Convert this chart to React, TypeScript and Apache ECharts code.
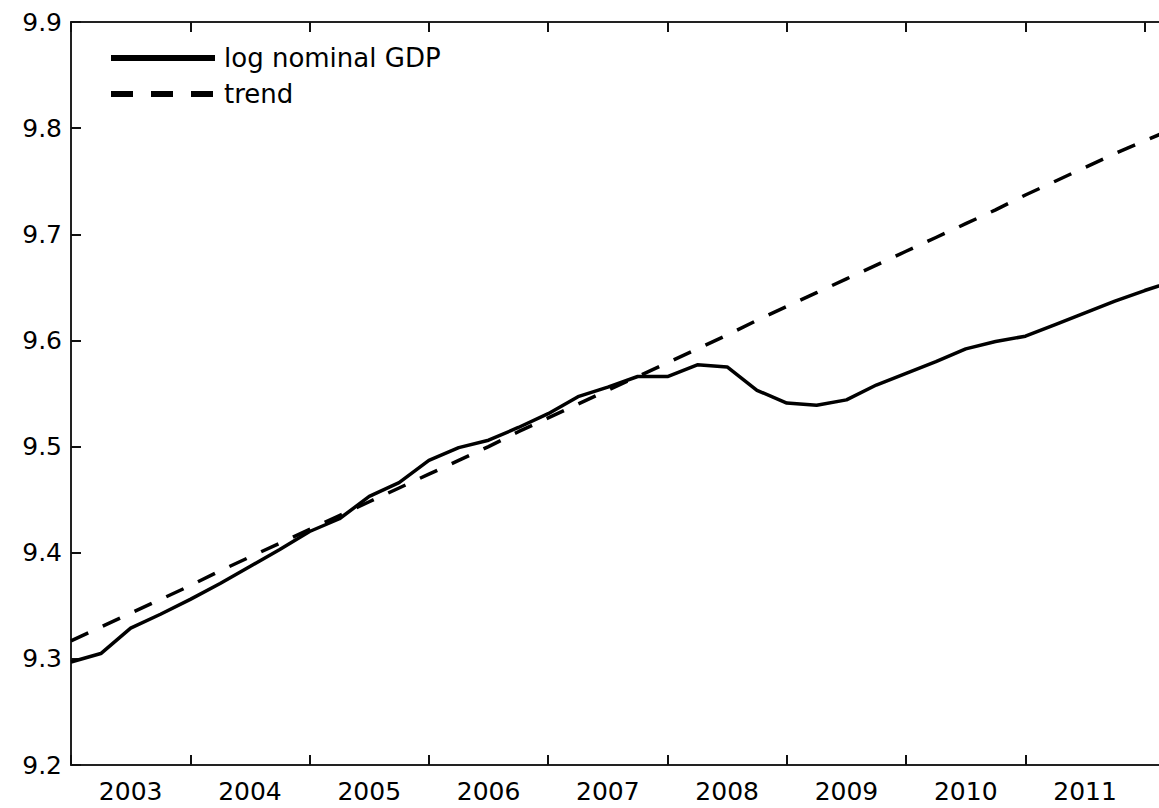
import React, { useEffect, useRef } from 'react';
import * as echarts from 'echarts';

// Year tick labels (labels sit mid-year, ticks at year boundaries)
const yearLabels = ['2003', '2004', '2005', '2006', '2007', '2008', '2009', '2010', '2011', '2012'];
const firstYear = 2003;

// Quarterly log nominal GDP, 2003Q1 onward
const logNominalGDP = [
  9.297, 9.305, 9.329, 9.342, 9.356, 9.371, 9.387, 9.403,
  9.420, 9.432, 9.453, 9.466, 9.487, 9.499, 9.506, 9.518,
  9.531, 9.547, 9.556, 9.566, 9.566, 9.577, 9.575, 9.553,
  9.541, 9.539, 9.544, 9.558, 9.569, 9.580, 9.592, 9.599,
  9.604, 9.615, 9.626, 9.637, 9.647, 9.656,
];

// Quarterly trend
const trendValues = [
  9.317, 9.330, 9.343, 9.356, 9.369, 9.383, 9.396, 9.409,
  9.422, 9.435, 9.448, 9.461, 9.474, 9.487, 9.500, 9.514,
  9.527, 9.540, 9.553, 9.566, 9.579, 9.592, 9.605, 9.619,
  9.632, 9.645, 9.658, 9.671, 9.684, 9.697, 9.710, 9.723,
  9.737, 9.750, 9.763, 9.776, 9.788, 9.800,
];

const seriesNames = ['log nominal GDP', 'trend'];

const FONT = 'DejaVu Sans';
const CHART_W = 1300;

export default function App() {
  const ref = useRef<HTMLDivElement>(null);

  useEffect(() => {
    if (!ref.current) return;
    const chart = echarts.init(ref.current, undefined, { renderer: 'svg' });

    const toXY = (arr: number[]) => arr.map((v, i) => [firstYear + i / 4, v]);

    const axisLine = { show: true, lineStyle: { color: '#222', width: 2 } };
    const axisTick = { show: true, inside: true, length: 10, lineStyle: { color: '#111', width: 2 } };

    chart.setOption({
      animation: false,
      backgroundColor: '#fff',
      grid: { left: 71, top: 22, right: CHART_W - 1264, bottom: 43, containLabel: false },
      legend: {
        orient: 'vertical',
        left: 108,
        top: 45,
        padding: 0,
        itemWidth: 104,
        itemHeight: 26,
        itemGap: 10,
        selectedMode: false,
        itemStyle: { opacity: 0 },
        textStyle: { fontFamily: FONT, fontSize: 26, color: '#000', padding: [0, 0, 0, 4] },
        data: [
          { name: seriesNames[0], itemStyle: { opacity: 0 }, lineStyle: { width: 6, type: 'solid', color: '#000' } },
          { name: seriesNames[1], itemStyle: { opacity: 0 }, lineStyle: { width: 6, type: [22, 18], color: '#000' } },
        ],
      },
      xAxis: [
        {
          type: 'category',
          position: 'bottom',
          data: yearLabels,
          boundaryGap: true,
          axisLine,
          axisTick: { ...axisTick, alignWithLabel: false },
          axisLabel: {
            show: true,
            interval: (i: number) => i < yearLabels.length - 1,
            fontFamily: FONT,
            fontSize: 25,
            color: '#000',
            margin: 14,
          },
          splitLine: { show: false },
        },
        {
          type: 'category',
          position: 'top',
          data: yearLabels,
          boundaryGap: true,
          axisLine,
          axisTick,
          axisLabel: { show: false },
          splitLine: { show: false },
        },
        {
          type: 'value',
          min: 2003,
          max: 2013,
          show: false,
          splitLine: { show: false },
        },
      ],
      yAxis: [
        {
          type: 'value',
          min: 9.2,
          max: 9.9,
          interval: 0.1,
          axisLine,
          axisTick,
          axisLabel: {
            fontFamily: FONT,
            fontSize: 25,
            color: '#000',
            margin: 9,
            formatter: (v: number) => v.toFixed(1),
          },
          splitLine: { show: false },
        },
      ],
      series: [
        {
          name: seriesNames[0],
          type: 'line',
          xAxisIndex: 2,
          data: toXY(logNominalGDP),
          symbol: 'none',
          showSymbol: false,
          lineStyle: { color: '#000', width: 3.5, type: 'solid' },
          itemStyle: { color: '#000' },
        },
        {
          name: seriesNames[1],
          type: 'line',
          xAxisIndex: 2,
          data: toXY(trendValues),
          symbol: 'none',
          showSymbol: false,
          lineStyle: { color: '#000', width: 3.5, type: [19, 16] },
          itemStyle: { color: '#000' },
        },
      ],
    });

    return () => chart.dispose();
  }, []);

  return (
    <div style={{ position: 'absolute', left: 0, top: 0, width: 1159, height: 808, overflow: 'hidden', background: '#fff' }}>
      <div ref={ref} style={{ width: CHART_W, height: 808 }} />
    </div>
  );
}
